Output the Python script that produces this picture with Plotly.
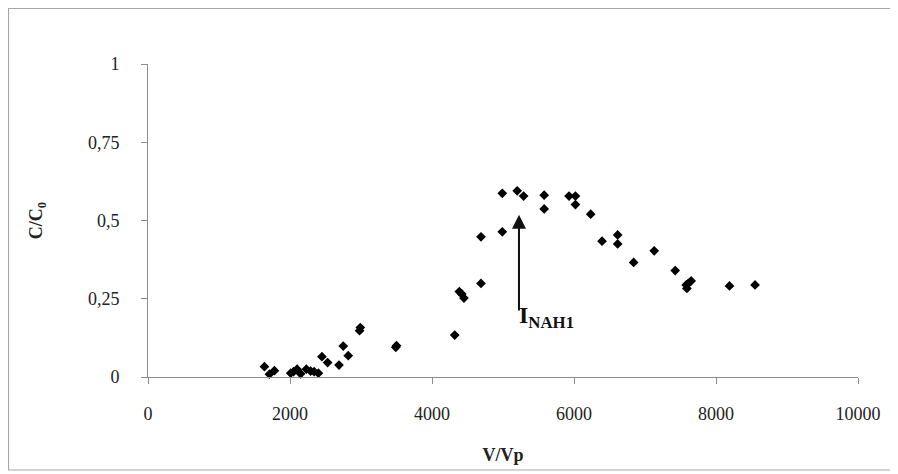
import plotly.graph_objects as go

# Data
v_vp = [1640, 1710, 1780, 2010, 2050, 2100, 2150, 2230, 2290, 2340, 2400,
        2450, 2530, 2690, 2750, 2820, 2980, 2990, 3490, 3500,
        4320, 4385, 4420, 4450, 4690, 4690, 4990, 4990, 5200, 5290,
        5580, 5580, 5930, 6020, 6020, 6235, 6395, 6615, 6615, 6840,
        7130, 7425, 7580, 7590, 7610, 7650, 8190, 8550]
c_c0 = [0.033, 0.009, 0.02, 0.012, 0.017, 0.025, 0.01, 0.025, 0.019, 0.017, 0.012,
        0.065, 0.046, 0.038, 0.099, 0.068, 0.148, 0.158, 0.095, 0.1,
        0.134, 0.273, 0.265, 0.252, 0.299, 0.448, 0.464, 0.587, 0.595, 0.578,
        0.581, 0.537, 0.578, 0.578, 0.551, 0.52, 0.434, 0.454, 0.425, 0.366,
        0.403, 0.34, 0.294, 0.283, 0.299, 0.307, 0.291, 0.294]

x_ticks = [0, 2000, 4000, 6000, 8000, 10000]
x_tick_text = ["0", "2000", "4000", "6000", "8000", "10000"]
y_ticks = [0, 0.25, 0.5, 0.75, 1]
y_tick_text = ["0", "0,25", "0,5", "0,75", "1"]

arrow_x = 5225
arrow_tip = 0.518
arrow_tail = 0.208

FONT = "Liberation Serif"
AX = "#8c8c8c"

# page offset of the figure (browser body margin)
OFF = 8
L, T, PW, PH = 148 - OFF, 64 - OFF, 710, 313
W, H = 890, 466

fig = go.Figure()
fig.add_trace(go.Scatter(
    x=v_vp, y=c_c0, mode="markers",
    marker=dict(symbol="diamond", size=7.5, color="black"),
    cliponaxis=False, showlegend=False,
))

fig.update_layout(
    width=W, height=H,
    margin=dict(l=L, r=W - L - PW, t=T, b=H - T - PH),
    paper_bgcolor="white", plot_bgcolor="white",
    font=dict(family=FONT, size=18, color="#222222"),
    xaxis=dict(
        range=[0, 10000], tickvals=x_ticks, ticktext=x_tick_text,
        showgrid=False, zeroline=False, showline=True, linecolor=AX, linewidth=1,
        ticks="outside", ticklen=6, tickcolor=AX, ticklabelstandoff=14,
        title=dict(text="<b>V/Vp</b>", font=dict(size=18), standoff=25),
    ),
    yaxis=dict(
        range=[0, 1], tickvals=y_ticks, ticktext=y_tick_text,
        showgrid=False, zeroline=False, showline=True, linecolor=AX, linewidth=1,
        ticks="outside", ticklen=6, tickcolor=AX, ticklabelstandoff=18,
        title=dict(text="<b>C/C<sub>0</sub></b>", font=dict(size=18), standoff=40),
    ),
    shapes=[dict(type="rect", xref="paper", yref="paper",
                 x0=(0.5 - L) / PW, x1=(887 - L) / PW,
                 y0=(T + PH - 462) / PH, y1=(T + PH - 0.5) / PH,
                 line=dict(color="#a8a8a8", width=1.2), layer="below")],
    annotations=[
        dict(x=arrow_x, y=arrow_tip, ax=arrow_x, ay=arrow_tail,
             xref="x", yref="y", axref="x", ayref="y", text="",
             showarrow=True, arrowhead=2, arrowsize=1.4, arrowwidth=2,
             arrowcolor="#111111"),
        dict(x=arrow_x, y=arrow_tail - 0.015, xref="x", yref="y",
             text="<b>I<sub>NAH1</sub></b>", showarrow=False,
             xanchor="left", yanchor="middle", xshift=-2,
             font=dict(family=FONT, size=24, color="#111111")),
    ],
)

fig.write_html("out.html")
